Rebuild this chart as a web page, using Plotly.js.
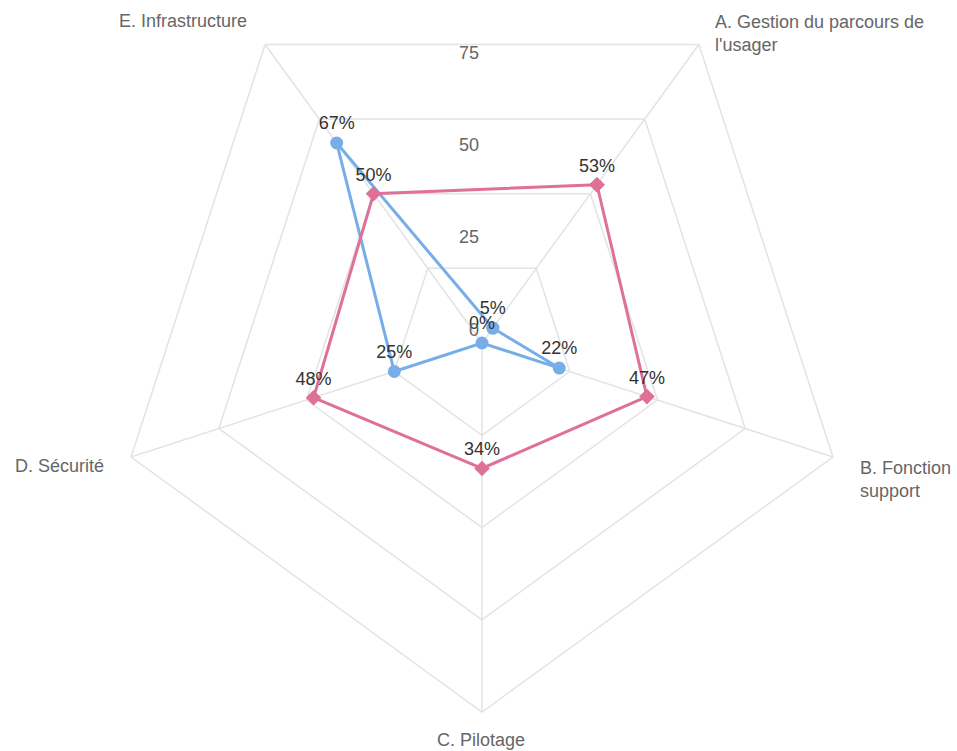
<!DOCTYPE html>
<html><head><meta charset="utf-8">
<script src="https://cdn.plot.ly/plotly-3.0.1.min.js"></script>
<style>html,body{margin:0;padding:0;overflow:hidden;background:#fff}#chart{position:absolute;left:0;top:-30px;width:957px;height:781px}</style>
</head><body><div id="chart"></div>
<script>
const categories = ["A. Gestion du parcours de<br>l'usager", "B. Fonction<br>support", "C. Pilotage", "D. Sécurité", "E. Infrastructure"];
const seriesBlue = [5, 22, 0, 25, 67];
const seriesPink = [53, 47, 34, 48, 50];
const radialTicks = [0, 25, 50, 75];

const close = a => a.concat([a[0]]);
const pct = a => close(a).map((v, i) => i < a.length ? v + '%' : '');

const FONT = 'Liberation Sans, Arial, sans-serif';
const textFont = {family: FONT, size: 18, color: '#333'};

const traces = [
  {type: 'scatterpolar', subplot: 'polar', r: close(seriesBlue), theta: close(categories),
   mode: 'lines+markers+text', text: pct(seriesBlue), textposition: 'top center', textfont: textFont,
   line: {color: '#78aee8', width: 3}, marker: {color: '#78aee8', size: 13, symbol: 'circle'},
   cliponaxis: true, hoverinfo: 'skip'},
  {type: 'scatterpolar', subplot: 'polar', r: close(seriesPink), theta: close(categories),
   mode: 'lines+markers+text', text: pct(seriesPink), textposition: 'top center', textfont: textFont,
   line: {color: '#df7198', width: 3}, marker: {color: '#df7198', size: 12, symbol: 'diamond'},
   cliponaxis: true, hoverinfo: 'skip'},
  {type: 'scatterpolar', subplot: 'polar2', r: radialTicks, theta: radialTicks.map(() => 90),
   mode: 'text+markers', text: radialTicks.map(String), textposition: 'top left',
   marker: {size: 3, opacity: 0}, textfont: {family: FONT, size: 18, color: '#666'},
   cliponaxis: false, hoverinfo: 'skip'}
];

// category label placement (page pixels -> paper coords of the polar domain)
const L = 113, T = -26, S = 738;
const px = x => (x - L) / S;
const py = y => 1 - (y - T) / S;
const labelPlacement = [
  {x: 713, y: 33, xanchor: 'left'},
  {x: 858, y: 479, xanchor: 'left'},
  {x: 481, y: 740, xanchor: 'center'},
  {x: 106, y: 466, xanchor: 'right'},
  {x: 249, y: 21, xanchor: 'right'}
];
const annotations = categories.map((c, i) => ({
  text: c, xref: 'paper', yref: 'paper', x: px(labelPlacement[i].x), y: py(labelPlacement[i].y),
  xanchor: labelPlacement[i].xanchor, yanchor: 'middle', align: 'left', showarrow: false,
  font: {family: FONT, size: 18, color: '#666'}
}));

const grid = '#e3e3e3';
const layout = {
  width: 957, height: 781,
  margin: {l: 113, r: 106, t: 4, b: 39},
  paper_bgcolor: '#fff', showlegend: false,
  font: {family: FONT, size: 18, color: '#666'},
  annotations: annotations,
  polar: {
    domain: {x: [0, 1], y: [0, 1]},
    gridshape: 'linear', bgcolor: 'rgba(0,0,0,0)',
    radialaxis: {range: [0, 100], tickvals: [25, 50, 75, 100], showticklabels: false, ticks: '',
                 showline: false, gridcolor: grid, gridwidth: 1.5},
    angularaxis: {type: 'category', rotation: 54, direction: 'clockwise', gridcolor: grid, gridwidth: 1.5,
                  showline: true, linecolor: grid, linewidth: 1.5, ticks: '', showticklabels: false}
  },
  polar2: {
    domain: {x: [0, 1], y: [0, 1]}, bgcolor: 'rgba(0,0,0,0)',
    radialaxis: {range: [0, 100], visible: false},
    angularaxis: {visible: false, rotation: 0, direction: 'counterclockwise'}
  }
};
Plotly.newPlot('chart', traces, layout, {displayModeBar: false, staticPlot: true});
</script></body></html>
